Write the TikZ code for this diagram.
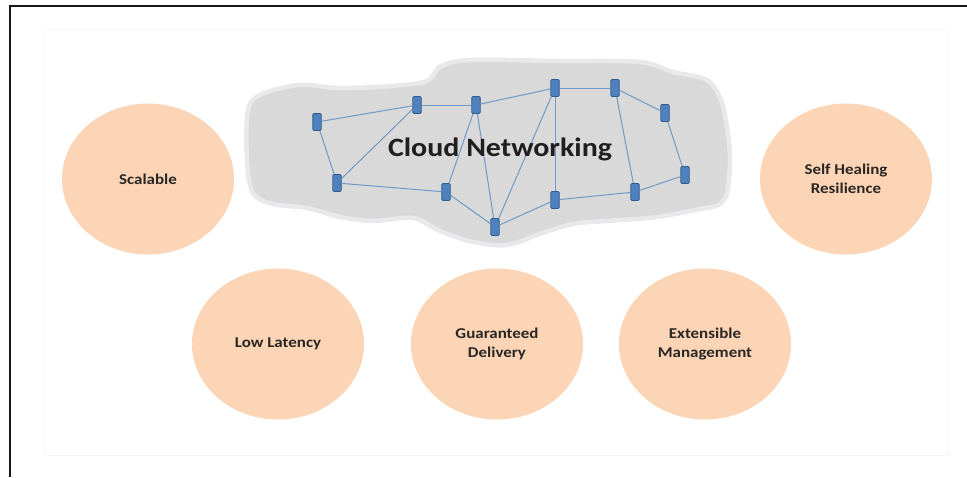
\documentclass[tikz,border=0pt]{standalone}
\usepackage{fontspec}
\setmainfont{Carlito}[FakeStretch=1.13]
\usetikzlibrary{shapes.geometric}
\definecolor{peach}{HTML}{FBD5B5}
\definecolor{cloudgray}{HTML}{D9D9D9}
\definecolor{cloudrim}{HTML}{E9E9EC}
\definecolor{devfill}{HTML}{4F81BD}
\definecolor{devedge}{HTML}{2F5B8E}
\definecolor{linkblue}{HTML}{7099C6}
\definecolor{labeltext}{HTML}{2A2623}

\begin{document}
\begin{tikzpicture}[x=1pt,y=-1pt,
  feature/.style={ellipse, fill=peach, minimum width=172pt, minimum height=151pt,
    inner sep=0pt, align=center, text=labeltext,
    font=\bfseries\fontsize{15}{18.5}\selectfont},
  device/.style={rectangle, rounded corners=1.3pt, fill=devfill, draw=devedge,
    line width=0.9pt, minimum width=8.5pt, minimum height=17pt, inner sep=0pt},
  link/.style={draw=linkblue, line width=1pt},
  title/.style={font=\bfseries\fontsize{26.5}{30}\selectfont, text=black!88}]

\useasboundingbox (0,0) rectangle (967,477);

% faint inner panel edge
\draw[black!3, line width=1pt] (44,29) rectangle (948,455);

% outer frame (top and left edges)
\draw[line width=2.4pt, black!90] (967,6.2) -- (10.2,6.2) -- (10.2,477);

% cloud
\path[fill=cloudgray, draw=cloudrim, line width=4.5pt]
  plot[smooth cycle, tension=0.55] coordinates {
    (248,110) (262,94) (300,85) (340,88) (390,86) (427,81) (441,66) (473,60)
    (560,61) (640,62) (673,72) (707,80) (721,100) (727,127) (730,160)
    (727,193) (718,205) (700,209) (657,217) (607,221) (573,224) (540,234)
    (507,245) (473,242) (440,231) (413,218) (373,221) (340,217) (307,208)
    (273,204) (253,193) (247,160)};

% network devices
\node[device] (n1)  at (317,122) {};
\node[device] (n2)  at (417,105) {};
\node[device] (n3)  at (476,105) {};
\node[device] (n4)  at (555,88)  {};
\node[device] (n5)  at (615,88)  {};
\node[device] (n6)  at (665,113) {};
\node[device] (n7)  at (685,175) {};
\node[device] (n8)  at (635,192) {};
\node[device] (n9)  at (555,200) {};
\node[device] (n10) at (495,227) {};
\node[device] (n11) at (446,192) {};
\node[device] (n12) at (337,183) {};

% links
\draw[link] (n1) -- (n2);
\draw[link] (n1) -- (n12);
\draw[link] (n12) -- (n2);
\draw[link] (n2) -- (n3);
\draw[link] (n3) -- (n4);
\draw[link] (n4) -- (n5);
\draw[link] (n5) -- (n6);
\draw[link] (n6) -- (n7);
\draw[link] (n7) -- (n8);
\draw[link] (n8) -- (n9);
\draw[link] (n9) -- (n10);
\draw[link] (n10) -- (n4);
\draw[link] (n4) -- (n9);
\draw[link] (n5) -- (n8);
\draw[link] (n3) -- (n11);
\draw[link] (n3) -- (n10);
\draw[link] (n11) -- (n10);
\draw[link] (n12) -- (n11);

\node[title] (cloudtitle) at (500,149) {Cloud Networking};

% feature bubbles
\node[feature] (scal) at (148,179) {Scalable};
\node[feature] (heal) at (846,179) {Self Healing\\Resilience};
\node[feature] (lat)  at (278,344) {Low Latency};
\node[feature] (deliv) at (497,344) {Guaranteed\\Delivery};
\node[feature] (mgmt) at (705,344) {Extensible\\Management};

\end{tikzpicture}
\end{document}
